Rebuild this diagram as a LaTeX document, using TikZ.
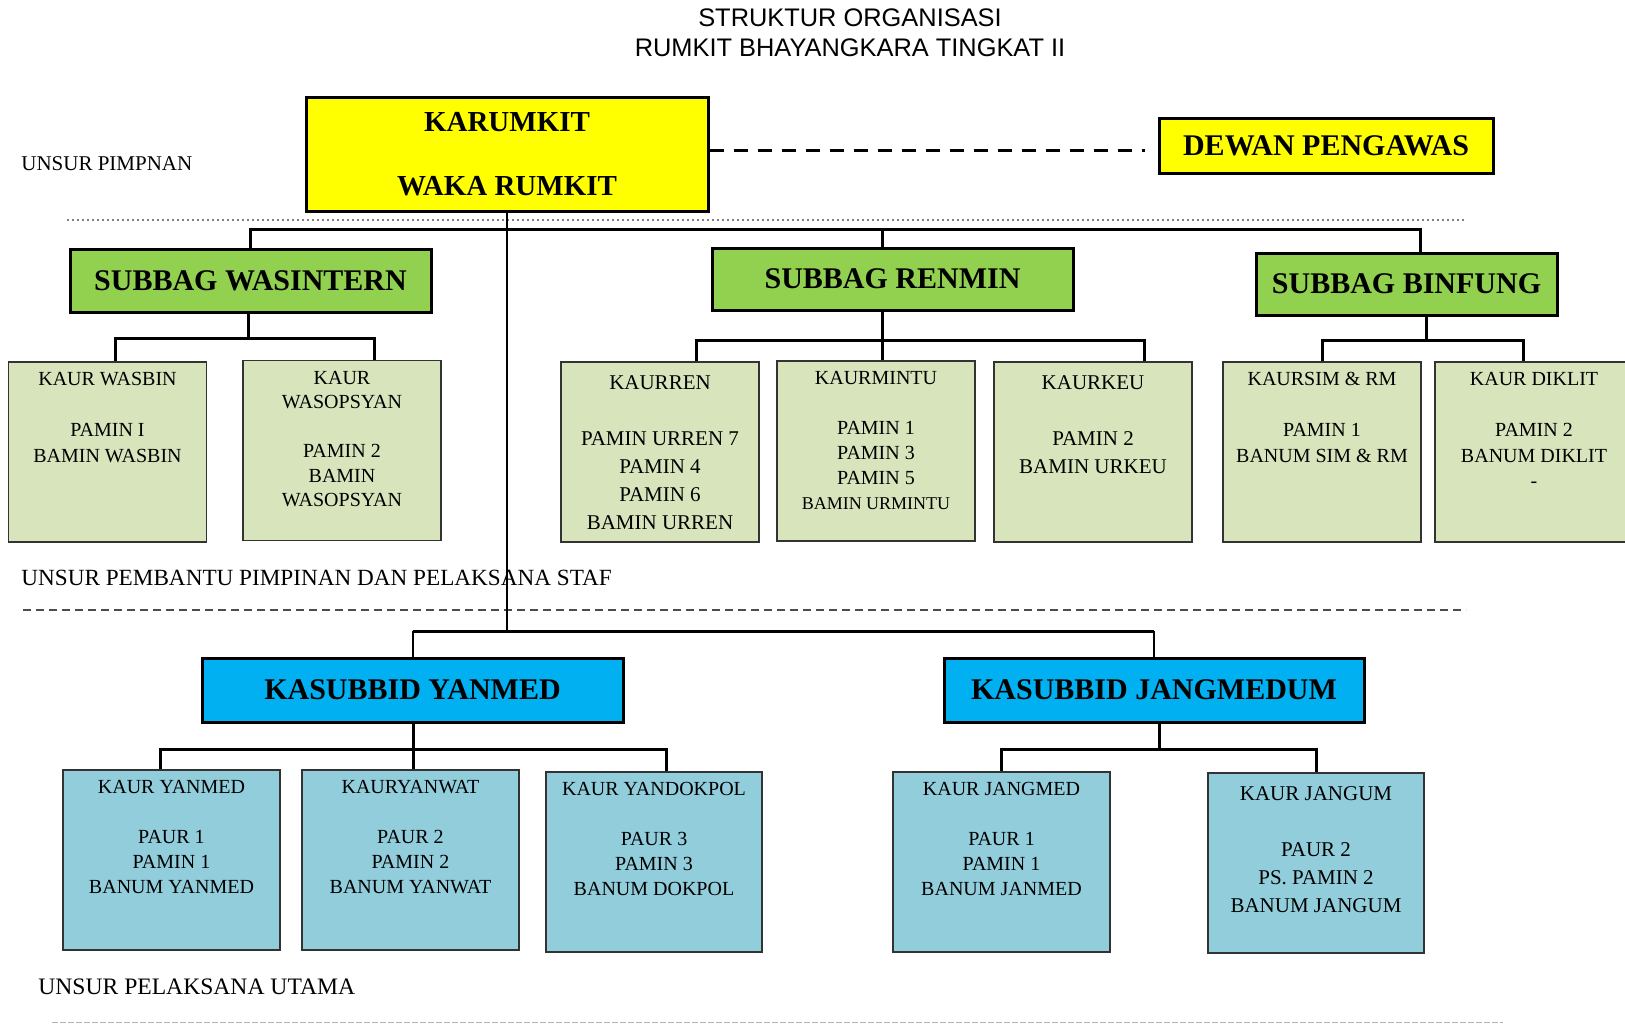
\documentclass[tikz,border=0pt]{standalone}
\usepackage{fontspec}
\setmainfont{Liberation Serif}
\newfontfamily\titlefont{Liberation Sans}
\usetikzlibrary{positioning}

\definecolor{kuning}{HTML}{FFFF00}
\definecolor{hijau}{HTML}{92D050}
\definecolor{hijaumuda}{HTML}{D8E4BC}
\definecolor{biru}{HTML}{00B0F0}
\definecolor{birumuda}{HTML}{92CDDC}

\begin{document}
\begin{tikzpicture}[x=0.5pt,y=-0.5pt]
  \tikzstyle{head}=[draw,line width=1.5pt,inner sep=0pt,font=\fontsize{15}{18}\selectfont\bfseries]
  \tikzstyle{kaur}=[draw=black!80,line width=0.8pt,minimum width=99pt,minimum height=90pt,inner sep=0pt]
  \tikzstyle{isi}=[align=center,inner sep=0pt,font=\fontsize{10}{12.75}\selectfont]
  \tikzstyle{isibesar}=[isi,font=\fontsize{10.5}{14}\selectfont]
  \tikzstyle{bus}=[line width=1.5pt]
  \tikzstyle{unsur}=[anchor=west,inner sep=0pt]
  \useasboundingbox (0,0) rectangle (1625,1024);

  % judul
  \node[font=\titlefont\fontsize{12.7}{15}\selectfont,align=center] (judul) at (850,33) {STRUKTUR ORGANISASI\\RUMKIT BHAYANGKARA TINGKAT II};

  % garis pemisah unsur
  \draw[gray,line width=1pt,dash pattern=on 1pt off 1.5pt] (67,220) -- (1466,220);
  \draw[black!70,line width=1pt,dash pattern=on 4pt off 2.5pt] (23,610) -- (1466,610);
  \draw[gray!60,line width=0.5pt,dash pattern=on 3pt off 1pt] (52,1022) -- (1503,1022);

  \node[unsur,font=\fontsize{10.5}{12}\selectfont] (pimpinan) at (21,164) {UNSUR PIMPNAN};
  \node[unsur,font=\fontsize{11.6}{14}\selectfont] (pembantu) at (21,578) {UNSUR PEMBANTU PIMPINAN DAN PELAKSANA STAF};
  \node[unsur,font=\fontsize{11.8}{14}\selectfont] (pelaksana) at (38,987) {UNSUR PELAKSANA UTAMA};

  % pimpinan
  \node[head,fill=kuning,minimum width=201pt,minimum height=57pt,align=center,font=\fontsize{14.5}{32}\selectfont\bfseries] (karumkit) at (507,154) {KARUMKIT\\WAKA RUMKIT};
  \node[head,fill=kuning,minimum width=167pt,minimum height=27.5pt] (dewan) at (1326,145.5) {DEWAN PENGAWAS};
  \coordinate (ikat) at (1145,150);
  \draw[line width=1.5pt,dash pattern=on 7pt off 5pt] (karumkit.east |- ikat) -- (ikat);

  % subbag
  \node[head,fill=hijau,minimum width=180.5pt,minimum height=31.5pt] (wasintern) at (250.5,280.5) {SUBBAG WASINTERN};
  \node[head,fill=hijau,minimum width=180.5pt,minimum height=31pt] (renmin) at (892.5,279) {SUBBAG RENMIN};
  \node[head,fill=hijau,minimum width=150.5pt,minimum height=31pt] (binfung) at (1406.5,284) {SUBBAG BINFUNG};

  \node[kaur,fill=hijaumuda] (wasbin) at (107.5,452) {};
  \node[kaur,fill=hijaumuda] (wasopsyan) at (342,450.5) {};
  \node[kaur,fill=hijaumuda] (urren) at (660,452) {};
  \node[kaur,fill=hijaumuda] (urmintu) at (876,451) {};
  \node[kaur,fill=hijaumuda] (urkeu) at (1093,452) {};
  \node[kaur,fill=hijaumuda] (simrm) at (1322,452) {};
  \node[kaur,fill=hijaumuda] (diklit) at (1534,452) {};

  \node[isi,below=5.5pt of wasbin.north] (wasbin-t) {KAUR WASBIN\\[12.75pt]PAMIN I\\BAMIN WASBIN};
  \node[isi,font=\fontsize{10}{12.25}\selectfont,below=5.5pt of wasopsyan.north] (wasopsyan-t) {KAUR\\WASOPSYAN\\[12.25pt]PAMIN 2\\BAMIN\\WASOPSYAN};
  \node[isibesar,below=7pt of urren.north] (urren-t) {KAURREN\\[14pt]PAMIN URREN 7\\PAMIN 4\\PAMIN 6\\BAMIN URREN};
  \node[isi,font=\fontsize{10}{12.5}\selectfont,below=5.5pt of urmintu.north] (urmintu-t) {KAURMINTU\\[12.5pt]PAMIN 1\\PAMIN 3\\PAMIN 5\\{\fontsize{9}{12.5}\selectfont BAMIN URMINTU}};
  \node[isibesar,below=7pt of urkeu.north] (urkeu-t) {KAURKEU\\[14pt]PAMIN 2\\BAMIN URKEU};
  \node[isi,below=5.5pt of simrm.north] (simrm-t) {KAURSIM \& RM\\[12.75pt]PAMIN 1\\BANUM SIM \& RM};
  \node[isi,below=5.5pt of diklit.north] (diklit-t) {KAUR DIKLIT\\[12.75pt]PAMIN 2\\BANUM DIKLIT\\-};

  % kasubbid
  \node[head,fill=biru,minimum width=210.5pt,minimum height=32pt] (yanmed) at (412.5,690) {KASUBBID YANMED};
  \node[head,fill=biru,minimum width=210pt,minimum height=32pt] (jangmedum) at (1154,690) {KASUBBID JANGMEDUM};

  \node[kaur,fill=birumuda,minimum width=108.5pt] (kyanmed) at (171.5,860) {};
  \node[kaur,fill=birumuda,minimum width=108.5pt] (kyanwat) at (410.5,860) {};
  \node[kaur,fill=birumuda,minimum width=108pt] (kyandokpol) at (654,862) {};
  \node[kaur,fill=birumuda,minimum width=108.5pt] (kjangmed) at (1001.5,862) {};
  \node[kaur,fill=birumuda,minimum width=108pt] (kjangum) at (1316,863) {};

  \node[isi,font=\fontsize{10}{12.5}\selectfont,below=5.5pt of kyanmed.north] (kyanmed-t) {KAUR YANMED\\[12.5pt]PAUR 1\\PAMIN 1\\BANUM YANMED};
  \node[isi,font=\fontsize{10}{12.5}\selectfont,below=5.5pt of kyanwat.north] (kyanwat-t) {KAURYANWAT\\[12.5pt]PAUR 2\\PAMIN 2\\BANUM YANWAT};
  \node[isi,font=\fontsize{10}{12.5}\selectfont,below=5.5pt of kyandokpol.north] (kyandokpol-t) {KAUR YANDOKPOL\\[12.5pt]PAUR 3\\PAMIN 3\\BANUM DOKPOL};
  \node[isi,font=\fontsize{10}{12.5}\selectfont,below=5.5pt of kjangmed.north] (kjangmed-t) {KAUR JANGMED\\[12.5pt]PAUR 1\\PAMIN 1\\BANUM JANMED};
  \node[isibesar,below=7pt of kjangum.north] (kjangum-t) {KAUR JANGUM\\[14pt]PAUR 2\\PS. PAMIN 2\\BANUM JANGUM};

  % garis komando
  \coordinate (atas) at (882,229);
  \coordinate (bawah) at (507,631);
  \draw[bus] (wasintern.north) |- (atas) -| ([xshift=7pt]binfung.north);
  \draw[bus] (atas |- renmin.north) -- (atas);
  \draw[line width=1pt] (karumkit.south) -- (bawah);
  \draw[bus] (yanmed.north |- bawah) -- (jangmedum.north |- bawah);
  \draw[line width=1pt] (yanmed.north) -- (yanmed.north |- bawah);
  \draw[line width=1pt] (jangmedum.north) -- (jangmedum.north |- bawah);

  \coordinate (wasbus) at (248,338);
  \draw[bus] (wasbus |- wasintern.south) -- (wasbus);
  \draw[bus] ([xshift=4pt]wasbin.north) |- (wasbus) -| ([xshift=16pt]wasopsyan.north);

  \coordinate (renbus) at (882,340);
  \draw[bus] (renbus |- renmin.south) -- (renbus |- urmintu.north);
  \draw[bus] ([xshift=18pt]urren.north) |- (renbus) -| ([xshift=25.5pt]urkeu.north);

  \coordinate (binbus) at (1426,340);
  \draw[bus] (binbus |- binfung.south) -- (binbus);
  \draw[bus] (simrm.north) |- (binbus) -| ([xshift=-5.5pt]diklit.north);

  \coordinate (yanbus) at (413,749);
  \draw[bus] (yanbus |- yanmed.south) -- (yanbus |- kyanwat.north);
  \draw[bus] ([xshift=-5.5pt]kyanmed.north) |- (yanbus) -| ([xshift=6pt]kyandokpol.north);

  \coordinate (jangbus) at (1159,749);
  \draw[bus] (jangbus |- jangmedum.south) -- (jangbus);
  \draw[bus] (kjangmed.north) |- (jangbus) -| (kjangum.north);
\end{tikzpicture}
\end{document}
